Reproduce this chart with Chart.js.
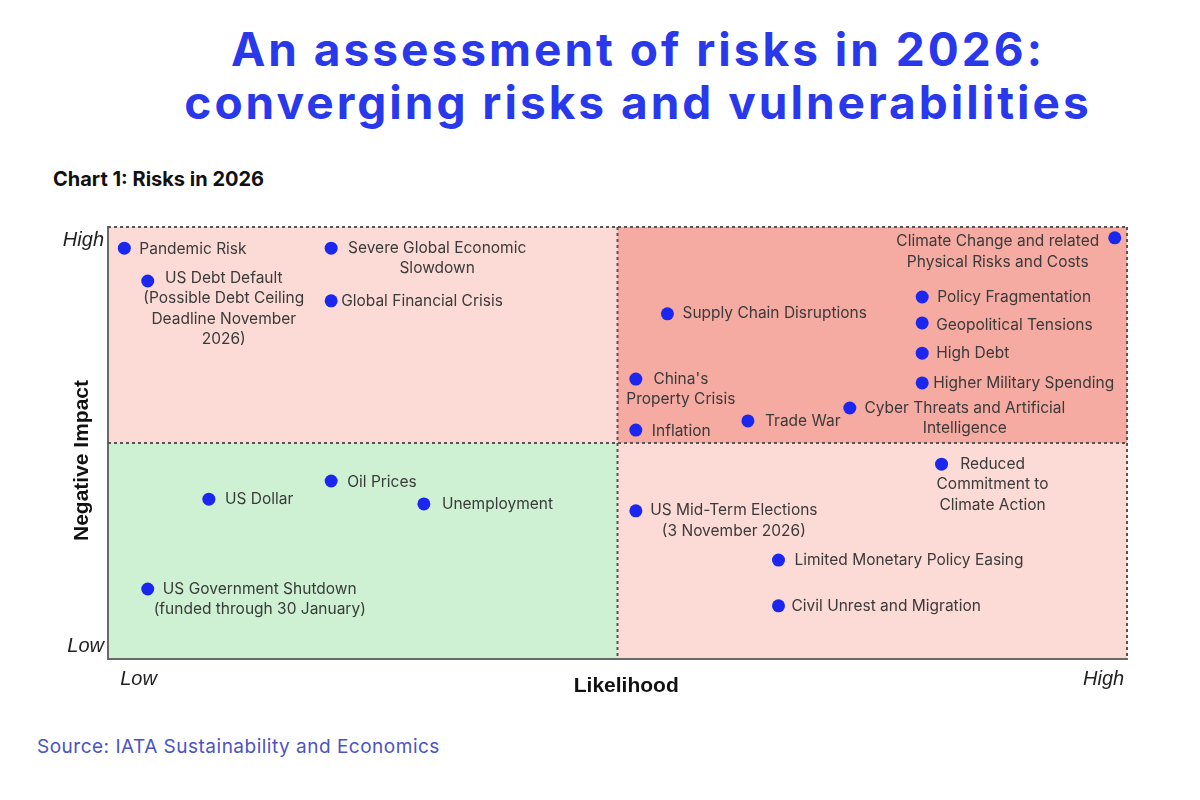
<!DOCTYPE html>
<html>
<head>
<meta charset="utf-8">
<script src="https://cdn.jsdelivr.net/npm/chart.js@4.4.1/dist/chart.umd.min.js"></script>
<style>
  html, body { margin: 0; padding: 0; background: #fff; }
  body { width: 1200px; height: 800px; position: relative; overflow: hidden; font-family: Inter, "Noto Sans", sans-serif; }
  #title { position: absolute; left: 38px; top: 23px; width: 1200px; text-align: center;
           font-size: 46px; line-height: 53px; font-weight: 700; color: #2a38ec; letter-spacing: 3px; }
  #subtitle { position: absolute; left: 53px; top: 167px; font-size: 20px; font-weight: 700; color: #111; }
  #source { position: absolute; left: 37px; top: 735px; font-size: 19px; color: #4a53c4; letter-spacing: 0.5px; }
  #wrap { position: absolute; left: 0; top: 200px; width: 1200px; height: 520px; }
</style>
</head>
<body>
<div id="title">An assessment of risks in 2026:<br>converging risks and vulnerabilities</div>
<div id="subtitle">Chart 1: Risks in 2026</div>
<div id="wrap"><canvas id="risk-chart" width="1200" height="520"></canvas></div>
<div id="source">Source: IATA Sustainability and Economics</div>

<script>
// ---- data ----
const riskNames = [
  ['Pandemic Risk'],
  ['US Debt Default', '(Possible Debt Ceiling', 'Deadline November', '2026)'],
  ['Severe Global Economic', 'Slowdown'],
  ['Global Financial Crisis'],
  ['Climate Change and related', 'Physical Risks and Costs'],
  ['Supply Chain Disruptions'],
  ['Policy Fragmentation'],
  ['Geopolitical Tensions'],
  ['High Debt'],
  ['Higher Military Spending'],
  ["China's", 'Property Crisis'],
  ['Inflation'],
  ['Trade War'],
  ['Cyber Threats and Artificial', 'Intelligence'],
  ['US Dollar'],
  ['Oil Prices'],
  ['Unemployment'],
  ['US Government Shutdown', '(funded through 30 January)'],
  ['Reduced', 'Commitment to', 'Climate Action'],
  ['US Mid-Term Elections', '(3 November 2026)'],
  ['Limited Monetary Policy Easing'],
  ['Civil Unrest and Migration']
];
const likelihood = [0.16, 0.39, 2.19, 2.19, 9.88, 5.49, 7.99, 7.99, 7.99, 7.99, 5.18,
                    5.18, 6.28, 7.28, 0.99, 2.19, 3.10, 0.39, 8.18, 5.18, 6.58, 6.58];
const impact     = [9.51, 8.75, 9.51, 8.29, 9.75, 7.99, 8.38, 7.78, 7.08, 6.39, 6.48,
                    5.30, 5.51, 5.81, 3.70, 4.12, 3.59, 1.62, 4.51, 3.43, 2.29, 1.23];
const xTickLabels = ['Low', 'High'];
const yTickLabels = ['Low', 'High'];

// label placement relative to each dot (px)
const labelPos = [
  { dx: 15, dy: 1, align: 'left' },
  { dx: 76, dy: -3, align: 'center' },
  { dx: 106, dy: 0, align: 'center' },
  { dx: 10, dy: 0, align: 'left' },
  { dx: -117, dy: 4, align: 'center' },
  { dx: 15, dy: 0, align: 'left' },
  { dx: 15, dy: 0, align: 'left' },
  { dx: 14, dy: 2, align: 'left' },
  { dx: 14, dy: 0, align: 'left' },
  { dx: 11, dy: 0, align: 'left' },
  { dx: 45, dy: 0, align: 'center' },
  { dx: 16, dy: 1, align: 'left' },
  { dx: 17, dy: 0, align: 'left' },
  { dx: 115, dy: 0, align: 'center' },
  { dx: 16, dy: 0, align: 'left' },
  { dx: 16, dy: 1, align: 'left' },
  { dx: 18, dy: 0, align: 'left' },
  { dx: 112, dy: 0, align: 'center' },
  { dx: 51, dy: 0, align: 'center' },
  { dx: 98, dy: 0, align: 'center' },
  { dx: 16, dy: 0, align: 'left' },
  { dx: 13, dy: 0, align: 'left' }
];

const C = {
  dot: '#1b26ee', text: '#3a3a3a',
  pinkLight: '#fcdad6', pinkDark: '#f5aaa2', green: '#cff1d3',
  dotted: '#555', axis: '#6a6a6a'
};

// quadrant backgrounds
const quadrants = {
  id: 'quadrants',
  beforeDraw(chart) {
    const { ctx, chartArea: a, scales: { x, y } } = chart;
    const mx = x.getPixelForValue(5), my = y.getPixelForValue(5);
    ctx.save();
    ctx.fillStyle = C.pinkLight; ctx.fillRect(a.left, a.top, mx - a.left, my - a.top);
    ctx.fillStyle = C.pinkDark;  ctx.fillRect(mx, a.top, a.right - mx, my - a.top);
    ctx.fillStyle = C.green;     ctx.fillRect(a.left, my, mx - a.left, a.bottom - my);
    ctx.fillStyle = C.pinkLight; ctx.fillRect(mx, my, a.right - mx, a.bottom - my);
    ctx.restore();
  },
  beforeDatasetsDraw(chart) {
    const { ctx, chartArea: a, scales: { x, y } } = chart;
    const mx = x.getPixelForValue(5), my = y.getPixelForValue(5);
    ctx.save();
    ctx.strokeStyle = C.dotted; ctx.lineWidth = 2; ctx.setLineDash([3, 3]);
    ctx.beginPath();
    ctx.moveTo(a.left, a.top); ctx.lineTo(a.right, a.top);
    ctx.moveTo(a.right, a.top); ctx.lineTo(a.right, a.bottom);
    ctx.moveTo(mx, a.top); ctx.lineTo(mx, a.bottom);
    ctx.moveTo(a.left, my); ctx.lineTo(a.right, my);
    ctx.stroke();
    ctx.restore();
  }
};

// text next to each dot
const riskLabels = {
  id: 'riskLabels',
  afterDatasetsDraw(chart) {
    const { ctx } = chart;
    const meta = chart.getDatasetMeta(0);
    ctx.save();
    ctx.font = '15.5px Inter, "Noto Sans", sans-serif';
    ctx.fillStyle = C.text;
    ctx.textBaseline = 'middle';
    meta.data.forEach((pt, i) => {
      const p = labelPos[i];
      ctx.textAlign = p.align;
      riskNames[i].forEach((line, j) => {
        ctx.fillText(line, pt.x + p.dx, pt.y + p.dy + j * 20.5);
      });
    });
    ctx.restore();
  }
};

const axisFont = { family: '"Liberation Sans", Arial, sans-serif' };

new Chart(document.getElementById('risk-chart').getContext('2d'), {
  type: 'scatter',
  data: {
    datasets: [{
      data: likelihood.map((v, i) => ({ x: v, y: impact[i] })),
      backgroundColor: C.dot, borderColor: C.dot, borderWidth: 0,
      pointRadius: 6.5, pointHoverRadius: 6.5, clip: false
    }]
  },
  options: {
    responsive: false,
    animation: false,
    events: [],
    layout: { padding: { top: 27, left: 40, right: 73, bottom: 11 } },
    plugins: { legend: { display: false }, tooltip: { enabled: false } },
    scales: {
      x: {
        type: 'linear', min: 0, max: 10,
        grid: { display: false, drawTicks: false },
        border: { display: true, color: C.axis, width: 2 },
        afterBuildTicks: s => { s.ticks = [{ value: 0.3 }, { value: 9.77 }]; },
        afterFit: s => { s.height = 50; },
        ticks: {
          autoSkip: false, maxRotation: 0, padding: 8, color: '#222',
          font: { ...axisFont, size: 20, style: 'italic' },
          callback: (v, i) => xTickLabels[i]
        },
        title: {
          // leading spaces nudge the title a little right of centre, as in the original
          display: true, text: '   Likelihood', color: '#111',
          font: { ...axisFont, size: 21, weight: 'bold' },
          padding: { top: 0, bottom: 10 }
        }
      },
      y: {
        type: 'linear', min: 0, max: 10,
        grid: { display: false, drawTicks: false },
        border: { display: true, color: C.axis, width: 2 },
        afterBuildTicks: s => { s.ticks = [{ value: 0.3 }, { value: 9.68 }]; },
        afterFit: s => { s.width = 68; },
        ticks: {
          autoSkip: false, padding: 4, color: '#222',
          font: { ...axisFont, size: 20, style: 'italic' },
          callback: (v, i) => yTickLabels[i]
        },
        title: {
          // trailing spaces push it slightly below centre
          display: true, text: 'Negative Impact      ', color: '#111',
          font: { ...axisFont, size: 21, weight: 'bold' },
          padding: { top: 30, bottom: 0 }
        }
      }
    }
  },
  plugins: [quadrants, riskLabels]
});
</script>
</body>
</html>
